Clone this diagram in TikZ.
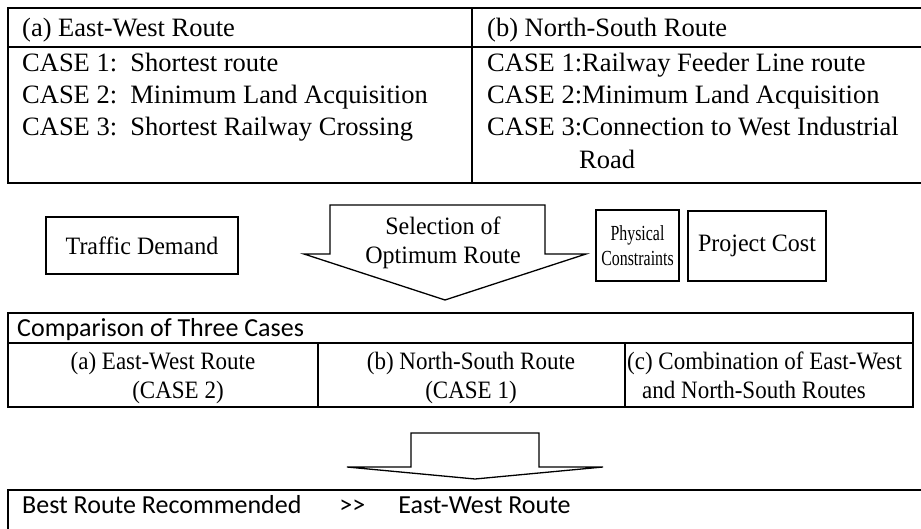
\documentclass[tikz,border=0pt]{standalone}
\usepackage{fontspec}
\setmainfont{Liberation Serif}
\newfontfamily\condserif[FakeStretch=0.96]{Liberation Serif}
\newfontfamily\narrserif[FakeStretch=0.74]{Liberation Serif}
\newfontfamily\tabserif[FakeStretch=0.92]{Liberation Serif}
\newfontfamily\carl{Carlito}
\begin{document}
\begin{tikzpicture}[x=1pt,y=-1pt,
  ln/.style={draw=black,line width=2pt},
  toptxt/.style={anchor=base west,inner sep=0pt,font=\fontsize{26.5}{30}\selectfont},
  midbox/.style={draw=black,line width=1.3pt,inner sep=0pt},
  midtxt/.style={inner sep=0pt,align=center,font=\condserif\fontsize{25}{29}\selectfont},
  phystxt/.style={inner sep=0pt,align=center,font=\narrserif\fontsize{21.5}{25}\selectfont},
  cmptxt/.style={anchor=base,inner sep=0pt,font=\tabserif\fontsize{25}{28}\selectfont},
  caltxt/.style={anchor=base west,inner sep=0pt,font=\carl\fontsize{26}{28}\selectfont},
  bigarrow/.style={draw=black,line width=1.3pt,fill=white}]
\useasboundingbox (0,0) rectangle (921,529);
% ---------- top table ----------
\coordinate (tl) at (8,8);
\coordinate (tr) at (921,8);
\coordinate (bl) at (8,183);
\coordinate (br) at (921,183);
\coordinate (hl) at (8,47);
\coordinate (hr) at (921,47);
\coordinate (dt) at (472,8);
\coordinate (db) at (472,183);
\draw[ln] (tr) -- (tl) -- (bl) -- (br);
\draw[ln] (hl) -- (hr);
\draw[ln] (dt) -- (db);
\node[toptxt] (ah) at (22,36.5) {(a) East-West Route};
\node[toptxt] (a1) at (22,71.5) {CASE 1:\ \ Shortest route};
\node[toptxt] (a2) at (22,103.5) {CASE 2:\ \ Minimum Land Acquisition};
\node[toptxt] (a3) at (22,135.5) {CASE 3:\ \ Shortest Railway Crossing};
\node[toptxt] (bh) at (487,36.5) {(b) North-South Route};
\node[toptxt] (b1) at (487,71.5) {CASE 1:Railway Feeder Line route};
\node[toptxt] (b2) at (487,103.5) {CASE 2:Minimum Land Acquisition};
\node[toptxt] (b3) at (487,135.5) {CASE 3:Connection to West Industrial};
\node[toptxt] (b4) at (579,169) {Road};
% ---------- middle row ----------
\node[midbox,minimum width=192pt,minimum height=57pt] (traffic) at (142,245.5) {};
\node[midtxt] (traffictxt) at (traffic.center) {Traffic Demand};
\draw[bigarrow] (330,205) -- (545,205) -- (545,254) -- (586,254) -- (445,300)
  -- (304,254) -- (330,254) -- cycle;
\node[midtxt] (sel) at (443,243) {Selection of\\Optimum Route};
\node[midbox,minimum width=83pt,minimum height=71pt] (phys) at (637.5,245.5) {};
\node[phystxt] (physt) at (phys.center) {Physical\\Constraints};
\node[midbox,minimum width=138pt,minimum height=70pt] (cost) at (757,246) {};
\node[midtxt] (costt) at (cost.center) {Project Cost};
% ---------- comparison table ----------
\draw[ln] (8,313) rectangle (913,407);
\draw[ln] (8,343) -- (913,343);
\draw[ln] (318,343) -- (318,407);
\draw[ln] (625,343) -- (625,407);
\node[caltxt] (cmph) at (17,336.5) {Comparison of Three Cases};
\node[cmptxt] (ca1) at (163,369.5) {(a) East-West Route};
\node[cmptxt] (ca2) at (178,398.5) {(CASE 2)};
\node[cmptxt] (cb1) at (471,369.5) {(b) North-South Route};
\node[cmptxt] (cb2) at (471,398.5) {(CASE 1)};
\node[cmptxt,anchor=base west] (cc1) at (627,369.5) {(c) Combination of East-West};
\node[cmptxt,anchor=base west] (cc2) at (642,398.5) {and North-South Routes};
% ---------- bottom arrow ----------
\draw[bigarrow] (411,433) -- (539,433) -- (539,467) -- (603,467) -- (475,479)
  -- (347,467) -- (411,467) -- cycle;
% ---------- result box ----------
\draw[ln] (921,490) -- (8,490) -- (8,535);
\node[caltxt] (best) at (22,513) {Best Route Recommended\hspace{38pt}>>\hspace{33pt}East-West Route};
\end{tikzpicture}
\end{document}
